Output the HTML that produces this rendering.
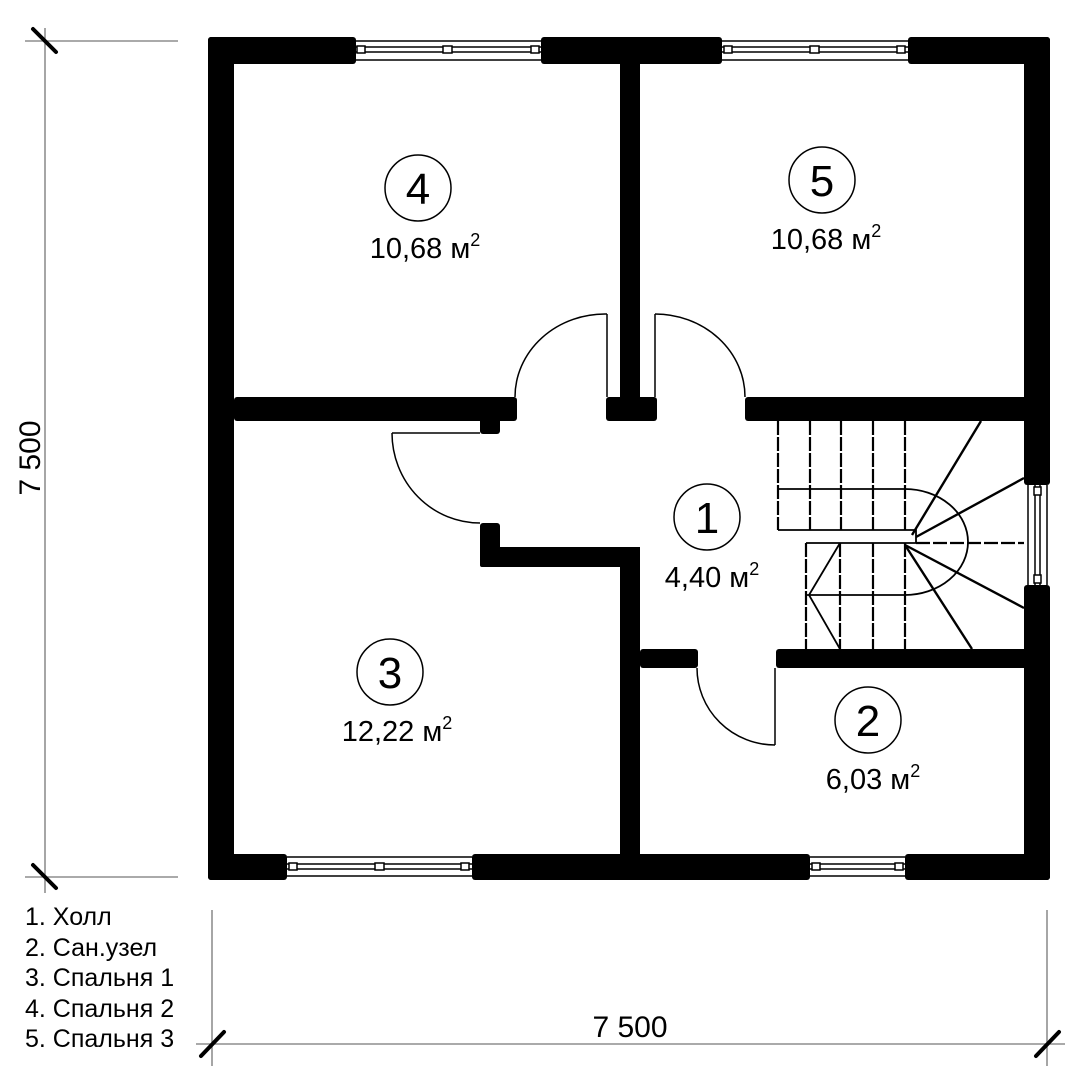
<!DOCTYPE html>
<html><head><meta charset="utf-8"><style>
html,body{margin:0;padding:0;background:#fff;}
svg{display:block;}
text{font-family:"Liberation Sans",sans-serif;fill:#000;}
</style></head><body>
<svg width="1090" height="1080" viewBox="0 0 1090 1080" xmlns="http://www.w3.org/2000/svg">
<g stroke="#777" stroke-width="1.3" fill="none">
<line x1="45" y1="28" x2="45" y2="893"/>
<line x1="25" y1="41" x2="178" y2="41"/>
<line x1="25" y1="877" x2="178" y2="877"/>
<line x1="212" y1="910" x2="212" y2="1066"/>
<line x1="1047" y1="910" x2="1047" y2="1066"/>
<line x1="196" y1="1044" x2="1065" y2="1044"/>
</g>
<g stroke="#000" stroke-width="4" stroke-linecap="round">
<line x1="33" y1="29" x2="56" y2="52"/>
<line x1="33" y1="865" x2="56" y2="888"/>
<line x1="201" y1="1056" x2="224" y2="1032"/>
<line x1="1036" y1="1056" x2="1059" y2="1032"/>
</g>
<text x="40" y="458" font-size="30" text-anchor="middle" transform="rotate(-90 40 458)">7 500</text>
<text x="630" y="1037" font-size="30" text-anchor="middle">7 500</text>
<g font-size="25">
<text x="25" y="925">1. Холл</text>
<text x="25" y="956">2. Сан.узел</text>
<text x="25" y="986">3. Спальня 1</text>
<text x="25" y="1017">4. Спальня 2</text>
<text x="25" y="1047">5. Спальня 3</text>
</g>
<g stroke="#000" stroke-width="1.5" fill="#fff">
<line x1="356" y1="41" x2="541" y2="41"/><line x1="356" y1="60" x2="541" y2="60"/><line x1="356" y1="47" x2="541" y2="47"/><line x1="356" y1="52" x2="541" y2="52"/>
<rect x="357" y="46" width="8" height="7"/><rect x="443" y="46" width="9" height="7"/><rect x="531" y="46" width="8" height="7"/>
<line x1="722" y1="41" x2="908" y2="41"/><line x1="722" y1="60" x2="908" y2="60"/><line x1="722" y1="47" x2="908" y2="47"/><line x1="722" y1="52" x2="908" y2="52"/>
<rect x="724" y="46" width="8" height="7"/><rect x="810" y="46" width="9" height="7"/><rect x="897" y="46" width="8" height="7"/>
<line x1="287" y1="857" x2="472" y2="857"/><line x1="287" y1="876" x2="472" y2="876"/><line x1="287" y1="864" x2="472" y2="864"/><line x1="287" y1="869" x2="472" y2="869"/>
<rect x="289" y="863" width="8" height="7"/><rect x="375" y="863" width="9" height="7"/><rect x="461" y="863" width="8" height="7"/>
<line x1="810" y1="857" x2="905" y2="857"/><line x1="810" y1="876" x2="905" y2="876"/><line x1="810" y1="864" x2="905" y2="864"/><line x1="810" y1="869" x2="905" y2="869"/>
<rect x="812" y="863" width="8" height="7"/><rect x="895" y="863" width="8" height="7"/>
<line x1="1028" y1="485" x2="1028" y2="585"/><line x1="1047" y1="485" x2="1047" y2="585"/><line x1="1035" y1="485" x2="1035" y2="585"/><line x1="1040" y1="485" x2="1040" y2="585"/>
<rect x="1034" y="487" width="7" height="8"/><rect x="1034" y="575" width="7" height="8"/>
</g>
<g fill="#000">
<rect x="208" y="37" width="148" height="27" rx="3"/>
<rect x="541" y="37" width="181" height="27" rx="3"/>
<rect x="908" y="37" width="142" height="27" rx="3"/>
<rect x="208" y="37" width="26" height="843" rx="3"/>
<rect x="1024" y="37" width="26" height="448" rx="3"/>
<rect x="1024" y="585" width="26" height="295" rx="3"/>
<rect x="208" y="854" width="79" height="26" rx="3"/>
<rect x="472" y="854" width="338" height="26" rx="3"/>
<rect x="905" y="854" width="145" height="26" rx="3"/>
<rect x="620" y="64" width="20" height="340"/>
<rect x="606" y="397" width="51" height="24" rx="3"/>
<rect x="234" y="397" width="283" height="24" rx="3"/>
<rect x="480" y="415" width="20" height="19" rx="3"/>
<rect x="480" y="523" width="20" height="44" rx="3"/>
<rect x="480" y="547" width="160" height="20" rx="2"/>
<rect x="620" y="547" width="20" height="310"/>
<rect x="745" y="397" width="285" height="24" rx="3"/>
<rect x="640" y="649" width="58" height="19" rx="3"/>
<rect x="776" y="649" width="254" height="19" rx="3"/>
</g>
<g stroke="#000" stroke-width="1.5" fill="none">
<line x1="607" y1="314" x2="607" y2="397"/>
<path d="M607 314 A 90 83 0 0 0 515 397"/>
<line x1="655" y1="314" x2="655" y2="397"/>
<path d="M655 314 A 90 83 0 0 1 745 397"/>
<line x1="392" y1="433" x2="480" y2="433"/>
<path d="M392 433 A 88 90 0 0 0 480 523"/>
<line x1="775" y1="668" x2="775" y2="745"/>
<path d="M697 668 A 78 77 0 0 0 775 745"/>
</g>
<g stroke="#000" stroke-width="1.8" fill="none">
<g stroke-dasharray="14 2" stroke-width="2.2">
<line x1="778" y1="421" x2="778" y2="530"/>
<line x1="810" y1="421" x2="810" y2="530"/>
<line x1="841" y1="421" x2="841" y2="530"/>
<line x1="873" y1="421" x2="873" y2="530"/>
<line x1="905" y1="421" x2="905" y2="530"/>
<line x1="806" y1="543" x2="806" y2="649"/>
<line x1="840" y1="543" x2="840" y2="649"/>
<line x1="873" y1="543" x2="873" y2="649"/>
<line x1="905" y1="543" x2="905" y2="649"/>
</g>
<line x1="778" y1="489" x2="905" y2="489"/>
<polyline points="778,530 916,530 916,543 806,543"/>
<line x1="806" y1="595" x2="905" y2="595"/>
<polyline points="840,543 809,595 840,649"/>
<path d="M905 489 A 63 53 0 0 1 905 595"/>
<line x1="912" y1="535" x2="981" y2="421" stroke-width="2.4"/>
<line x1="916" y1="537" x2="1024" y2="478" stroke-width="2.4"/>
<line x1="916" y1="543" x2="1024" y2="543" stroke-dasharray="14 3" stroke-width="2.2"/>
<line x1="905" y1="545" x2="1024" y2="608" stroke-width="2.4"/>
<line x1="905" y1="545" x2="972" y2="649" stroke-width="2.4"/>
</g>
<g stroke="#000" stroke-width="1.5" fill="none">
<circle cx="418" cy="188" r="33"/>
<circle cx="822" cy="180" r="33"/>
<circle cx="707" cy="517" r="33"/>
<circle cx="390" cy="672" r="33"/>
<circle cx="868" cy="720" r="33"/>
</g>
<g font-size="44" text-anchor="middle">
<text x="418" y="204">4</text>
<text x="822" y="196">5</text>
<text x="707" y="533">1</text>
<text x="390" y="688">3</text>
<text x="868" y="736">2</text>
</g>
<g font-size="29" text-anchor="middle">
<text x="425" y="258">10,68 м<tspan font-size="18" dy="-12">2</tspan></text>
<text x="826" y="249">10,68 м<tspan font-size="18" dy="-12">2</tspan></text>
<text x="712" y="587">4,40 м<tspan font-size="18" dy="-12">2</tspan></text>
<text x="397" y="741">12,22 м<tspan font-size="18" dy="-12">2</tspan></text>
<text x="873" y="789">6,03 м<tspan font-size="18" dy="-12">2</tspan></text>
</g>
</svg>
</body></html>
